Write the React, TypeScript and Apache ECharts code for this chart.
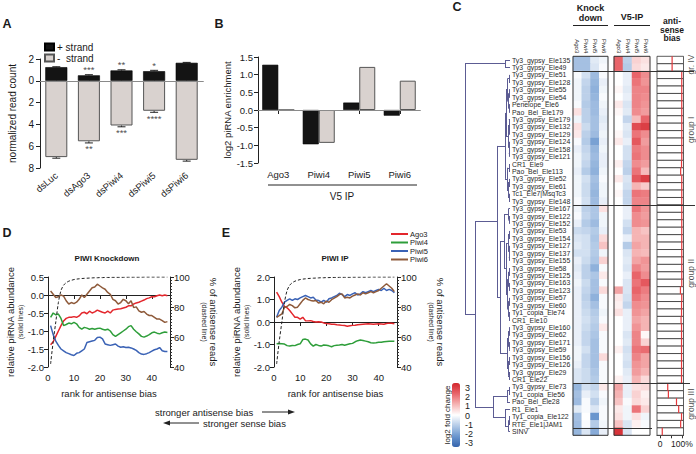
import React, { useEffect, useRef } from 'react';
import * as echarts from 'echarts';

const FONT = '"Liberation Sans", Arial, Helvetica, sans-serif';
const TXT = '#1a1a1a';

// ---------- Panel A ----------
const A_CATEGORIES = ['dsLuc', 'dsAgo3', 'dsPiwi4', 'dsPiwi5', 'dsPiwi6'];
const A_PLUS = [1.25, 0.5, 0.95, 0.88, 1.65];
const A_PLUS_ERR = [0.04, 0.06, 0.06, 0.08, 0.04];
const A_MINUS = [7.0, 5.55, 4.1, 2.75, 7.25];
const A_MINUS_ERR = [0.1, 0.15, 0.12, 0.14, 0.12];
const A_SIG_PLUS = ['', '***', '**', '*', ''];
const A_SIG_MINUS = ['', '**', '***', '****', ''];

// ---------- Panel B ----------
const B_CATEGORIES = ['Ago3', 'Piwi4', 'Piwi5', 'Piwi6'];
const B_PLUS = [1.28, -0.97, 0.21, -0.16];
const B_MINUS = [0, -0.93, 1.22, 0.83];

// ---------- Panels D / E (rank 1..46) ----------
const D_AGO3 = [-1.38, -1.3, -1.15, -1.0, -0.85, -0.72, -0.65, -0.62, -0.62, -0.6, -0.62, -0.58, -0.5, -0.48, -0.52, -0.45, -0.5, -0.47, -0.42, -0.45, -0.48, -0.5, -0.45, -0.5, -0.42, -0.4, -0.39, -0.38, -0.36, -0.34, -0.3, -0.3, -0.25, -0.22, -0.2, -0.17, -0.14, -0.1, -0.08, -0.05, -0.05, -0.02, 0.0, -0.02, 0.0, -0.02];
const D_PIWI4 = [-0.62, -0.5, -0.55, -0.53, -0.65, -0.85, -0.82, -0.78, -0.8, -0.76, -0.8, -0.9, -0.95, -0.9, -0.92, -0.95, -0.93, -0.95, -0.93, -0.92, -0.95, -0.97, -0.95, -1.0, -1.1, -1.15, -1.1, -1.05, -1.0, -0.95, -0.88, -0.85, -0.95, -1.02, -1.08, -1.15, -1.17, -1.14, -1.1, -1.05, -1.03, -1.06, -1.08, -1.05, -1.03, -1.04];
const D_PIWI5 = [-0.85, -1.1, -1.28, -1.4, -1.5, -1.55, -1.6, -1.63, -1.66, -1.68, -1.62, -1.6, -1.55, -1.5, -1.32, -1.3, -1.28, -1.26, -1.18, -1.17, -1.22, -1.36, -1.38, -1.4, -1.38, -1.36, -1.42, -1.45, -1.44, -1.46, -1.45, -1.47, -1.5, -1.54, -1.6, -1.64, -1.65, -1.63, -1.6, -1.56, -1.52, -1.5, -1.46, -1.55, -1.57, -1.57];
const D_PIWI6 = [0.11, 0.02, -0.07, -0.05, 0.0, -0.03, -0.16, -0.25, -0.21, -0.24, -0.2, -0.12, 0.0, -0.07, 0.02, 0.11, 0.2, 0.22, 0.3, 0.25, 0.2, 0.16, 0.07, 0.02, -0.12, -0.16, -0.25, -0.21, -0.12, -0.16, -0.24, -0.16, -0.35, -0.33, -0.44, -0.48, -0.46, -0.53, -0.57, -0.57, -0.62, -0.67, -0.67, -0.71, -0.76, -0.74];
const E_AGO3 = [1.33, 1.13, 0.88, 0.69, 0.63, 0.51, 0.36, 0.21, 0.21, 0.13, 0.21, 0.06, 0.05, 0.06, 0.02, 0.0, 0.01, 0.0, -0.04, -0.07, -0.08, -0.1, -0.1, -0.12, -0.13, -0.15, -0.16, -0.19, -0.17, -0.15, -0.14, -0.12, -0.11, -0.1, -0.09, -0.08, -0.09, -0.1, -0.09, -0.08, -0.09, -0.1, -0.07, -0.05, -0.06, -0.08];
const E_PIWI4 = [-0.97, -0.96, -0.97, -0.98, -1.05, -1.07, -1.04, -1.05, -1.0, -0.97, -0.78, -0.76, -0.8, -0.97, -1.07, -1.0, -1.04, -1.07, -1.02, -1.03, -1.06, -1.1, -1.05, -1.03, -1.02, -1.0, -1.03, -1.0, -0.97, -0.95, -0.88, -0.83, -0.8, -0.82, -0.85, -0.88, -0.92, -0.93, -0.92, -0.9, -0.9, -0.88, -0.87, -0.86, -0.85, -0.86];
const E_PIWI5 = [0.21, 0.51, 0.66, 0.88, 0.96, 1.03, 0.96, 1.03, 1.0, 1.07, 1.13, 1.18, 1.13, 1.07, 1.1, 0.98, 0.96, 0.88, 0.96, 0.88, 1.03, 1.07, 1.13, 1.18, 1.28, 1.22, 1.13, 1.22, 1.18, 1.25, 1.3, 1.2, 1.25, 1.35, 1.3, 1.35, 1.4, 1.35, 1.4, 1.45, 1.4, 1.5, 1.4, 1.45, 1.4, 1.3];
const E_PIWI6 = [0.21, 0.28, 0.36, 0.66, 0.69, 0.78, 0.73, 0.63, 0.66, 0.81, 0.96, 1.07, 1.0, 0.96, 0.93, 0.96, 0.84, 0.88, 0.81, 0.93, 0.88, 0.99, 1.06, 1.13, 1.22, 1.25, 1.07, 1.1, 1.07, 1.15, 1.2, 1.25, 1.2, 1.3, 1.25, 1.3, 1.35, 1.3, 1.35, 1.4, 1.5, 1.6, 1.7, 1.6, 1.5, 1.35];
const PCT_ANTISENSE = [42, 57, 70, 83, 91, 94.5, 96.2, 97.2, 97.8, 98.3, 98.6, 98.8, 99.0, 99.1, 99.2, 99.3, 99.4, 99.5, 99.5, 99.6, 99.6, 99.7, 99.7, 99.7, 99.8, 99.8, 99.8, 99.8, 99.8, 99.9, 99.9, 99.9, 99.9, 99.9, 99.9, 99.9, 100, 100, 100, 100, 100, 100, 100, 100, 100, 100];
const LINE_NAMES = ['Ago3', 'Piwi4', 'Piwi5', 'Piwi6'];
const LINE_COLORS = ['#e3262c', '#2e9e3a', '#3a62b5', '#8e5a3a'];

// ---------- Panel C ----------
const ROWS = ['Ty3_gypsy_Ele135', 'Ty3_gypsy_Ele49', 'Ty3_gypsy_Ele51', 'Ty3_gypsy_Ele128', 'Ty3_gypsy_Ele55', 'Ty3_gypsy_Ele54', 'Penelope_Ele6', 'Pao_Bel_Ele179', 'Ty3_gypsy_Ele179', 'Ty3_gypsy_Ele132', 'Ty3_gypsy_Ele129', 'Ty3_gypsy_Ele124', 'Ty3_gypsy_Ele158', 'Ty3_gypsy_Ele121', 'CR1_Ele9', 'Pao_Bel_Ele113', 'Ty3_gypsy_Ele52', 'Ty3_gypsy_Ele61', 'Tc1_Ele7|MsqTc3', 'Ty3_gypsy_Ele148', 'Ty3_gypsy_Ele167', 'Ty3_gypsy_Ele122', 'Ty3_gypsy_Ele152', 'Ty3_gypsy_Ele53', 'Ty3_gypsy_Ele154', 'Ty3_gypsy_Ele127', 'Ty3_gypsy_Ele137', 'Ty3_gypsy_Ele155', 'Ty3_gypsy_Ele58', 'Ty3_gypsy_Ele125', 'Ty3_gypsy_Ele163', 'Ty3_gypsy_Ele123', 'Ty3_gypsy_Ele57', 'Ty3_gypsy_Ele60', 'Ty1_copia_Ele74', 'CR1_Ele10', 'Ty3_gypsy_Ele160', 'Ty3_gypsy_Ele62', 'Ty3_gypsy_Ele171', 'Ty3_gypsy_Ele59', 'Ty3_gypsy_Ele156', 'Ty3_gypsy_Ele126', 'Ty3_gypsy_Ele29', 'CR1_Ele22', 'Ty3_gypsy_Ele73', 'Ty1_copia_Ele56', 'Pao_Bel_Ele28', 'R1_Ele1', 'Ty1_copia_Ele122', 'RTE_Ele1|JAM1', 'SINV'];
const HM_COLS = ['Ago3', 'Piwi4', 'Piwi5', 'Piwi6'];
const KD_AGO3 = [-1.2, -1.2, -0.1, -0.2, -0.2, -0.2, -0.1, 0.4, -0.2, 0.4, 0.3, -0.1, -0.3, -0.2, -0.2, -0.3, -0.2, -0.2, -0.2, -0.1, -0.2, -0.1, -0.3, -0.7, -0.5, -0.4, -0.6, -0.3, -0.4, -0.3, -0.2, -0.3, -0.3, -0.3, -0.3, -0.3, -0.3, -0.3, -0.3, -0.2, -0.2, -0.3, -0.5, -0.5, -1.4, -1.2, -1.3, -0.4, -1.2, -1.3, -1.4];
const KD_PIWI4 = [-1.2, -1.2, -0.6, -0.8, -0.9, -0.9, -1.0, -0.9, -0.9, -0.7, -0.9, -1.0, -0.8, -0.7, -0.8, -1.0, -0.6, -0.7, -0.7, -0.6, -0.9, -0.8, -1.0, -0.8, -0.6, -0.6, -0.6, -0.7, -0.9, -0.9, -0.7, -0.8, -0.9, -0.8, -0.7, -0.6, -0.7, -0.8, -0.8, -0.6, -0.8, -0.8, -0.7, -0.7, -0.6, -0.3, -0.1, -0.1, 0, -0.1, -0.5];
const KD_PIWI5 = [-0.4, -0.5, -1.3, -1.4, -1.5, -1.4, -1.3, -1.3, -1.2, -1.2, -1.3, -1.8, -1.4, -1.3, -1.4, -1.5, -1.2, -1.3, -1.4, -1.3, -1.1, -1.1, -1.3, -1.0, -1.1, -1.0, -1.0, -1.1, -1.5, -1.1, -1.2, -1.2, -1.5, -1.2, -1.0, -0.9, -1.0, -1.1, -1.2, -1.2, -1.2, -1.2, -1.1, -1.0, -0.8, -0.6, -0.9, -0.5, -2.0, -1.0, -1.6];
const KD_PIWI6 = [-0.2, -0.1, -0.1, -0.3, -0.2, -0.1, -0.2, -0.3, -0.4, -0.3, -0.2, -0.3, -0.2, -0.3, -0.3, -0.2, -0.1, -0.2, -0.2, -0.3, 0.4, -0.2, -0.2, -0.3, 0.5, 0.8, -0.2, 0.6, -0.1, 0.3, -0.1, 0.5, -0.1, -0.1, -0.2, -0.1, 0.3, -0.1, -0.1, -0.1, 0.5, -0.1, -0.1, -0.1, 0.3, -0.1, -0.2, -0.1, -0.1, -0.2, -0.3];
const IP_AGO3 = [2.0, 2.0, 0, 0, 0.1, 0, 0.3, 0.1, 0, 0, 0.1, 0.3, 0, 0, 0.2, 0, 0.3, 0, 0.1, 0, 0, 0, 0, 0, 0, 0, 0, 0, 0, 0, 0, 1.2, 0.3, 0.2, 0.4, 0, 0, 0, 0, 0.2, 0, 0, 0, 0.2, 1.2, 1.0, 0.8, 0.3, 0.4, 0.8, 2.8];
const IP_PIWI4 = [-0.9, -1.0, -0.3, -0.3, -0.4, -0.3, -0.5, -0.4, -0.8, -0.4, -0.5, -0.3, -0.6, -0.6, -0.8, -0.9, -0.5, -0.6, -0.8, -0.8, -0.3, -0.3, -0.6, -0.8, -0.3, -1.0, -0.5, -0.4, -0.5, -0.3, -0.5, -0.5, -0.6, -0.8, -0.3, -0.3, -0.3, -0.5, -0.4, -0.6, -0.5, -0.6, -0.4, -0.3, -0.3, -0.3, -0.1, -0.2, -0.2, -0.5, -0.5];
const IP_PIWI5 = [0.6, 0.5, 2.0, 1.8, 1.6, 1.6, 1.6, 1.5, 0.9, 2.4, 1.8, 2.2, 1.7, 1.8, 1.5, 1.8, 2.2, 1.0, 1.8, 1.6, 1.8, 1.5, 1.5, 1.0, 1.0, 1.2, 1.0, 1.2, 1.6, 2.0, 1.8, 2.0, 1.8, 1.5, 1.4, 1.2, 1.4, 1.6, 1.6, 1.8, 1.6, 1.4, 1.3, 1.0, 0.4, 0.6, 0.5, 1.8, 0.4, 0.2, 0];
const IP_PIWI6 = [0.4, 0.3, 1.5, 1.4, 1.6, 1.5, 1.4, 1.3, 2.0, 2.6, 1.5, 1.3, 1.5, 1.5, 1.3, 0.9, 2.6, 0.7, 1.7, 1.6, 1.4, 1.3, 1.4, 0.8, 1.0, 1.0, 0.9, 1.4, 1.3, 1.5, 2.2, 1.7, 1.5, 1.4, 1.2, 1.0, 1.0, 0.1, 0.6, 1.9, 1.2, 1.2, 1.0, 0.5, 0.5, 0.2, 0.3, 0.6, -0.2, -0.1, 0];
const BIAS = [55, 55, 99, 99, 99, 99, 99, 99, 99, 99, 99, 99, 99, 99, 98, 94, 99, 99, 99, 99, 99, 99, 99, 99, 99, 99, 99, 99, 99, 99, 99, 93, 99, 98, 98, 96, 98, 98, 98, 98, 98, 98, 98, 98, 35, 38, 75, 85, 98, 94, 10];
const GROUP_NAMES = ['gr. IV', 'group I', 'group II', 'group III'];
const GROUP_LABEL_ROWS = [1.6, 10.4, 29.7, 47.3];
const SEPARATOR_ROWS = [2.5, 20.5, 44.5, 50.5];
// [height, childA, childB]; leaves are 1-based row numbers
const DENDRO: any = [45,
  [5, 1, 2],
  [35,
    [13,
      [5,
        [4,
          [2.5, [1, 3, 4], [1.5, [0.8, 5, 6], [0.8, 7, 8]]],
          [2, [1.2, 9, [0.6, 10, 11]], [1.2, 12, [0.6, 13, 14]]]
        ],
        [3, [1, 15, 16], [2, [1, 17, 18], [1, 19, 20]]]
      ],
      [10,
        [6,
          [1.5, 21, [0.7, 22, 23]],
          [4,
            [2, [1, 24, 25], [1.2, 26, [0.6, 27, 28]]],
            [2.5, [1.5, [0.8, 29, 30], [0.8, 31, 32]], [1.8, [0.8, 33, 34], [1, 35, 36]]]
          ]
        ],
        [3, [1.8, [0.8, 37, 38], [0.8, 39, 40]], [2, [0.8, 41, 42], [1, 43, 44]]]
      ]
    ],
    [17,
      [3, [1, 45, 46], 47],
      [5, 48, [1.5, [1, 49, 50], 51]]
    ]
  ]
];
const COLORBAR_TICKS = [3, 2, 1, 0, -1, -2, -3];
const HEAT_COLORS = ['#3464ad', '#6a96ce', '#b4cbe7', '#ffffff', '#f5b4b4', '#e8646a', '#d3272d'];

function dendroSegments(tree: any) {
  const segs: number[][][] = [];
  const walk = (node: any): { y: number; h: number } => {
    if (typeof node === 'number') return { y: node, h: 0 };
    const [h, a, b] = node;
    const la = walk(a);
    const lb = walk(b);
    segs.push([[la.h, la.y], [h, la.y]]);
    segs.push([[lb.h, lb.y], [h, lb.y]]);
    segs.push([[h, la.y], [h, lb.y]]);
    return { y: (la.y + lb.y) / 2, h };
  };
  walk(tree);
  return segs;
}

const font = (size: number, bold = false) => `${bold ? 'bold ' : ''}${size}px ${FONT}`;
const gText = (x: number, y: number, text: string, size: number, bold = false, align = 'center', rotation = 0) => ({
  type: 'text', x, y, rotation, silent: true,
  style: { text, fill: TXT, font: font(size, bold), align, verticalAlign: 'middle', textAlign: align, textVerticalAlign: 'middle' },
});
const gLine = (x1: number, y1: number, x2: number, y2: number) => ({
  type: 'line', silent: true, shape: { x1, y1, x2, y2 }, style: { stroke: '#222', lineWidth: 1 },
});

function buildOption() {
  const axisLineDark = { show: true, lineStyle: { color: '#222', width: 1 } };
  const tickDark = { show: true, length: 4, lineStyle: { color: '#222' } };
  const lbl = (size: number, extra: any = {}) => ({ color: TXT, fontSize: size, fontFamily: FONT, ...extra });
  const twoLineName = { ...lbl(9.5), rich: { a: lbl(9.5, { lineHeight: 11 }), b: lbl(6.8, { lineHeight: 8 }) } };

  const grid = [
    { left: 40, top: 59, width: 163, height: 109 }, // 0 A
    { left: 258, top: 57, width: 162, height: 106 }, // 1 B
    { left: 48, top: 277, width: 122, height: 90 }, // 2 D
    { left: 274, top: 277, width: 123, height: 90 }, // 3 E
    { left: 573, top: 56.3, width: 35, height: 379, show: true, borderColor: '#333', borderWidth: 1, z: 3 }, // 4 KD
    { left: 614, top: 56.3, width: 36, height: 379, show: true, borderColor: '#333', borderWidth: 1, z: 3 }, // 5 V5
    { left: 657, top: 56.3, width: 26.5, height: 379 }, // 6 bias
    { left: 464, top: 56.3, width: 46, height: 379 }, // 7 dendro
    { left: 573, top: 56.3, width: 123, height: 379 }, // 8 overlay
    { left: 452, top: 383.4, width: 8, height: 64.2 }, // 9 colorbar labels
  ];

  const rankAxis = (gi: number) => ({
    type: 'value', gridIndex: gi, min: 0, max: 47, interval: 10,
    axisLine: axisLineDark, axisTick: { ...tickDark, customValues: [0, 10, 20, 30, 40] },
    axisLabel: lbl(9.5, { margin: 5, customValues: [0, 10, 20, 30, 40] }),
    splitLine: { show: false },
    name: 'rank for antisense bias', nameLocation: 'middle', nameGap: 21,
    nameTextStyle: lbl(9.5),
  });

  const xAxis: any[] = [
    { type: 'category', gridIndex: 0, data: A_CATEGORIES, axisLine: axisLineDark, axisTick: { ...tickDark, alignWithLabel: true },
      axisLabel: lbl(9.5, { rotate: 40, margin: 6, interval: 0 }) },
    { type: 'category', gridIndex: 1, data: B_CATEGORIES, axisLine: axisLineDark, axisTick: { ...tickDark, alignWithLabel: true },
      axisLabel: lbl(9.5, { margin: 6, interval: 0 }) },
    rankAxis(2),
    rankAxis(3),
    { type: 'category', gridIndex: 4, data: HM_COLS, position: 'top', axisLine: { show: false }, axisTick: { show: false },
      axisLabel: lbl(6, { rotate: 90, margin: 3, interval: 0 }) },
    { type: 'category', gridIndex: 5, data: HM_COLS, position: 'top', axisLine: { show: false }, axisTick: { show: false },
      axisLabel: lbl(6, { rotate: 90, margin: 3, interval: 0 }) },
    { type: 'value', gridIndex: 6, min: -14, max: 107, axisLine: { show: true, lineStyle: { color: '#333' } },
      axisTick: { show: true, length: 3, lineStyle: { color: '#333' }, customValues: [0, 50, 100] },
      axisLabel: lbl(8.5, { margin: 4, customValues: [0, 100], formatter: (v: number) => (v === 100 ? '100%' : String(v)) }),
      splitLine: { show: false } },
    { type: 'value', gridIndex: 7, min: 0, max: 46, inverse: true, show: false },
    { type: 'value', gridIndex: 8, min: 0, max: 123, show: false },
    { type: 'value', gridIndex: 9, show: false },
  ];

  const rowAxis = (gi: number, showLabels: boolean) => ({
    type: 'category', gridIndex: gi, data: ROWS, inverse: true,
    axisLine: { show: false }, axisTick: { show: false }, splitLine: { show: false },
    axisLabel: showLabels ? lbl(6.9, { interval: 0, align: 'left', margin: 61, color: '#2a2a2a' }) : { show: false },
  });

  const yAxis: any[] = [
    { type: 'value', gridIndex: 0, min: -8, max: 2, interval: 2, axisLine: axisLineDark, axisTick: tickDark, splitLine: { show: false },
      axisLabel: lbl(10, { margin: 6, formatter: (v: number) => String(Math.abs(v)) }),
      name: 'normalized read count', nameLocation: 'middle', nameGap: 23, nameTextStyle: lbl(10) },
    { type: 'value', gridIndex: 1, min: -1.5, max: 1.5, interval: 0.5, axisLine: axisLineDark, axisTick: tickDark, splitLine: { show: false },
      axisLabel: lbl(9.5, { margin: 5, formatter: (v: number) => v.toFixed(1) }),
      name: 'log2 piRNA enrichment', nameLocation: 'middle', nameGap: 25, nameTextStyle: lbl(9.5) },
    { type: 'value', gridIndex: 2, min: -2, max: 0.5, interval: 0.5, axisLine: axisLineDark, axisTick: tickDark, splitLine: { show: false },
      axisLabel: lbl(9.5, { margin: 4, formatter: (v: number) => v.toFixed(1) }),
      name: '{a|relative piRNA abundance}\n{b|(solid lines)}', nameLocation: 'middle', nameGap: 22, nameTextStyle: twoLineName },
    { type: 'value', gridIndex: 2, position: 'right', min: 40, max: 100, interval: 20, axisLine: axisLineDark, axisTick: tickDark,
      minorTick: { show: true, splitNumber: 10, length: 2, lineStyle: { color: '#333' } }, splitLine: { show: false },
      axisLabel: lbl(9.5, { margin: 4 }),
      name: '{a|% of antisense reads}\n{b|(dashed line)}', nameLocation: 'middle', nameGap: 30, nameRotate: -90, nameTextStyle: twoLineName },
    { type: 'value', gridIndex: 3, min: -2, max: 2, interval: 1, axisLine: axisLineDark, axisTick: tickDark, splitLine: { show: false },
      axisLabel: lbl(9.5, { margin: 4, formatter: (v: number) => v.toFixed(1) }),
      name: '{a|relative piRNA abundance}\n{b|(solid lines)}', nameLocation: 'middle', nameGap: 21, nameTextStyle: twoLineName },
    { type: 'value', gridIndex: 3, position: 'right', min: 40, max: 100, interval: 20, axisLine: axisLineDark, axisTick: tickDark,
      minorTick: { show: true, splitNumber: 10, length: 2, lineStyle: { color: '#333' } }, splitLine: { show: false },
      axisLabel: lbl(9.5, { margin: 4 }),
      name: '{a|% of antisense reads}\n{b|(dashed line)}', nameLocation: 'middle', nameGap: 30, nameRotate: -90, nameTextStyle: twoLineName },
    rowAxis(4, true),
    rowAxis(5, false),
    rowAxis(6, false),
    { type: 'value', gridIndex: 7, min: 0.5, max: 51.5, inverse: true, show: false },
    { type: 'value', gridIndex: 8, min: 0.5, max: 51.5, inverse: true, show: false },
    { type: 'value', gridIndex: 9, min: -3.5, max: 3.5, position: 'right', axisLine: { show: false }, axisTick: { show: false },
      splitLine: { show: false }, axisLabel: lbl(9, { margin: 5, customValues: COLORBAR_TICKS }) },
  ];

  const series: any[] = [];
  const zeroLine = { silent: true, symbol: 'none', label: { show: false }, data: [{ yAxis: 0 }], lineStyle: { color: '#8a8a8a', width: 1, type: 'solid' } };

  // Panel A
  series.push({ type: 'bar', name: '+ strand', xAxisIndex: 0, yAxisIndex: 0, data: A_PLUS, barWidth: 22, barGap: '-100%',
    itemStyle: { color: '#141414', borderColor: '#000', borderWidth: 0.6 } });
  series.push({ type: 'bar', name: '-  strand', xAxisIndex: 0, yAxisIndex: 0, data: A_MINUS.map((v) => -v), barWidth: 22,
    itemStyle: { color: '#d9d2cf', borderColor: '#555', borderWidth: 1 }, markLine: zeroLine });
  const errRender = (params: any, api: any) => {
    const i = api.value(0), v = api.value(1), e = api.value(2);
    const p0 = api.coord([i, v]);
    const p1 = api.coord([i, v + e]);
    return { type: 'group', children: [
      { type: 'line', shape: { x1: p0[0], y1: p0[1], x2: p1[0], y2: p1[1] }, style: { stroke: '#222', lineWidth: 1 } },
      { type: 'line', shape: { x1: p1[0] - 4, y1: p1[1], x2: p1[0] + 4, y2: p1[1] }, style: { stroke: '#222', lineWidth: 1 } },
    ] };
  };
  series.push({ type: 'custom', xAxisIndex: 0, yAxisIndex: 0, renderItem: errRender, silent: true,
    data: A_PLUS.map((v, i) => [i, v, A_PLUS_ERR[i]]).concat(A_MINUS.map((v, i) => [i, -v, -A_MINUS_ERR[i]])) });
  series.push({ type: 'scatter', xAxisIndex: 0, yAxisIndex: 0, symbolSize: 0.1, itemStyle: { color: 'rgba(0,0,0,0)' }, silent: true,
    data: A_SIG_PLUS.map((s, i) => ({ name: s, value: [i, A_PLUS[i] + A_PLUS_ERR[i]] })),
    label: { show: true, position: 'top', distance: 0, formatter: '{b}', color: TXT, fontSize: 9.5, fontFamily: FONT } });
  series.push({ type: 'scatter', xAxisIndex: 0, yAxisIndex: 0, symbolSize: 0.1, itemStyle: { color: 'rgba(0,0,0,0)' }, silent: true,
    data: A_SIG_MINUS.map((s, i) => ({ name: s, value: [i, -(A_MINUS[i] + A_MINUS_ERR[i])] })),
    label: { show: true, position: 'bottom', distance: 1, formatter: '{b}', color: TXT, fontSize: 9.5, fontFamily: FONT } });

  // Panel B
  series.push({ type: 'bar', name: '+ strand', xAxisIndex: 1, yAxisIndex: 1, data: B_PLUS, barWidth: 16, barGap: '0%',
    itemStyle: { color: '#141414', borderColor: '#000', borderWidth: 0.6 } });
  series.push({ type: 'bar', name: '-  strand', xAxisIndex: 1, yAxisIndex: 1, data: B_MINUS, barWidth: 16,
    itemStyle: { color: '#d9d2cf', borderColor: '#555', borderWidth: 1 }, markLine: zeroLine });

  // Panels D, E
  const addLines = (arrs: number[][], xi: number, yi: number, yr: number) => {
    arrs.forEach((arr, k) => {
      series.push({ type: 'line', name: LINE_NAMES[k], xAxisIndex: xi, yAxisIndex: yi, data: arr.map((v, i) => [i + 1, v]),
        showSymbol: false, symbol: 'none', lineStyle: { color: LINE_COLORS[k], width: 1.5 }, itemStyle: { color: LINE_COLORS[k] } });
    });
    series.push({ type: 'line', name: 'pct', xAxisIndex: xi, yAxisIndex: yr, data: PCT_ANTISENSE.map((v, i) => [i + 1, v]),
      showSymbol: false, symbol: 'none', smooth: 0.3, lineStyle: { color: '#222', width: 1, type: [3, 2] } });
  };
  addLines([D_AGO3, D_PIWI4, D_PIWI5, D_PIWI6], 2, 2, 3);
  addLines([E_AGO3, E_PIWI4, E_PIWI5, E_PIWI6], 3, 4, 5);

  // Panel C heatmaps
  const kdData: number[][] = [];
  const ipData: number[][] = [];
  ROWS.forEach((_, r) => {
    [KD_AGO3, KD_PIWI4, KD_PIWI5, KD_PIWI6].forEach((arr, c) => kdData.push([c, r, arr[r]]));
    [IP_AGO3, IP_PIWI4, IP_PIWI5, IP_PIWI6].forEach((arr, c) => ipData.push([c, r, arr[r]]));
  });
  const kdIdx = series.length;
  series.push({ type: 'heatmap', xAxisIndex: 4, yAxisIndex: 6, data: kdData, silent: true, emphasis: { disabled: true } });
  const ipIdx = series.length;
  series.push({ type: 'heatmap', xAxisIndex: 5, yAxisIndex: 7, data: ipData, silent: true, emphasis: { disabled: true } });

  // antisense bias boxes
  series.push({ type: 'custom', xAxisIndex: 6, yAxisIndex: 8, silent: true, data: BIAS.map((v, i) => [v, i]),
    renderItem: (params: any, api: any) => {
      const cs = params.coordSys;
      const p = api.coord([api.value(0), api.value(1)]);
      const h = api.size([0, 1])[1];
      return { type: 'group', children: [
        { type: 'rect', shape: { x: cs.x, y: p[1] - h / 2, width: cs.width, height: h }, style: { fill: '#fff', stroke: '#333', lineWidth: 0.8 } },
        { type: 'line', z2: 5, shape: { x1: p[0], y1: p[1] - h / 2, x2: p[0], y2: p[1] + h / 2 }, style: { stroke: '#e5383b', lineWidth: 1.2 } },
      ] };
    } });

  // dendrogram
  series.push({ type: 'lines', coordinateSystem: 'cartesian2d', xAxisIndex: 7, yAxisIndex: 9, silent: true,
    data: dendroSegments(DENDRO).map((c) => ({ coords: c })),
    lineStyle: { color: '#5c5c93', width: 1, opacity: 1 } });

  // group separators + group labels
  const SEP_END = [121, 122, 117, 79];
  series.push({ type: 'lines', coordinateSystem: 'cartesian2d', xAxisIndex: 8, yAxisIndex: 10, silent: true, z: 6,
    data: SEPARATOR_ROWS.map((r, i) => ({ coords: [[0, r], [SEP_END[i], r]] })),
    lineStyle: { color: '#333', width: 1, opacity: 1 } });
  series.push({ type: 'scatter', xAxisIndex: 8, yAxisIndex: 10, symbolSize: 0.1, itemStyle: { color: 'rgba(0,0,0,0)' }, silent: true,
    data: GROUP_NAMES.map((g, i) => ({ name: g, value: [117.5, GROUP_LABEL_ROWS[i]] })),
    label: { show: true, position: 'inside', rotate: 90, formatter: '{b}', color: TXT, fontSize: 8.5, fontFamily: FONT } });

  const graphic: any[] = [
    gText(7, 24, 'A', 12.5, true), gText(219, 24, 'B', 12.5, true), gText(457, 7, 'C', 12.5, true),
    gText(7, 233, 'D', 12.5, true), gText(226, 233, 'E', 12.5, true),
    gLine(268, 185, 417, 185), gText(342, 196, 'V5 IP', 10),
    gText(107, 258, 'PIWI Knockdown', 8, true), gText(335, 258, 'PIWI IP', 8, true),
    gText(155, 412, 'stronger antisense bias', 9.5, false, 'left'),
    gLine(262, 412, 290, 412),
    { type: 'polygon', silent: true, shape: { points: [[295, 412], [288, 409.5], [288, 414.5]] }, style: { fill: '#222' } },
    gText(203, 423.5, 'stronger sense bias', 9.5, false, 'left'),
    gLine(199, 423, 168, 423),
    { type: 'polygon', silent: true, shape: { points: [[163, 423], [170, 420.5], [170, 425.5]] }, style: { fill: '#222' } },
    gText(590.5, 8, 'Knock', 9, true), gText(590.5, 18, 'down', 9, true), gLine(573, 25.5, 608, 25.5),
    gText(632, 17, 'V5-IP', 9, true), gLine(614, 25.5, 650, 25.5),
    gText(672, 21, 'anti-', 8.5, true), gText(672, 29.5, 'sense', 8.5, true), gText(672, 38, 'bias', 8.5, true),
    gText(447, 415, 'log2 fold change', 8, false, 'center', Math.PI / 2),
  ];

  return {
    animation: false,
    textStyle: { fontFamily: FONT },
    grid, xAxis, yAxis, series, graphic,
    legend: [
      { data: ['+ strand', '-  strand'], orient: 'vertical', left: 44, top: 42, itemWidth: 9, itemHeight: 7, itemGap: 1, icon: 'rect',
        padding: 0, textStyle: lbl(10, { padding: [0, 0, 0, -2] }), selectedMode: false },
      { data: LINE_NAMES, orient: 'vertical', left: 391, top: 230, itemWidth: 17, itemHeight: 2, itemGap: 0.5, icon: 'rect',
        padding: 0, textStyle: lbl(7.5, { lineHeight: 7.5, padding: [0, 0, 0, -3] }), selectedMode: false },
    ],
    visualMap: {
      type: 'continuous', min: -3, max: 3, seriesIndex: [kdIdx, ipIdx], inRange: { color: HEAT_COLORS },
      orient: 'vertical', left: 452, top: 383, itemWidth: 8, itemHeight: 64, padding: 0, calculable: false,
      hoverLink: false, text: null, show: true,
    },
  };
}

export default function App() {
  const ref = useRef<HTMLDivElement>(null);
  useEffect(() => {
    document.body.style.margin = '0';
    const chart = echarts.init(ref.current!, null, { renderer: 'svg' });
    chart.setOption(buildOption() as any);
    return () => chart.dispose();
  }, []);
  return <div ref={ref} style={{ width: 696, height: 454 }} />;
}
